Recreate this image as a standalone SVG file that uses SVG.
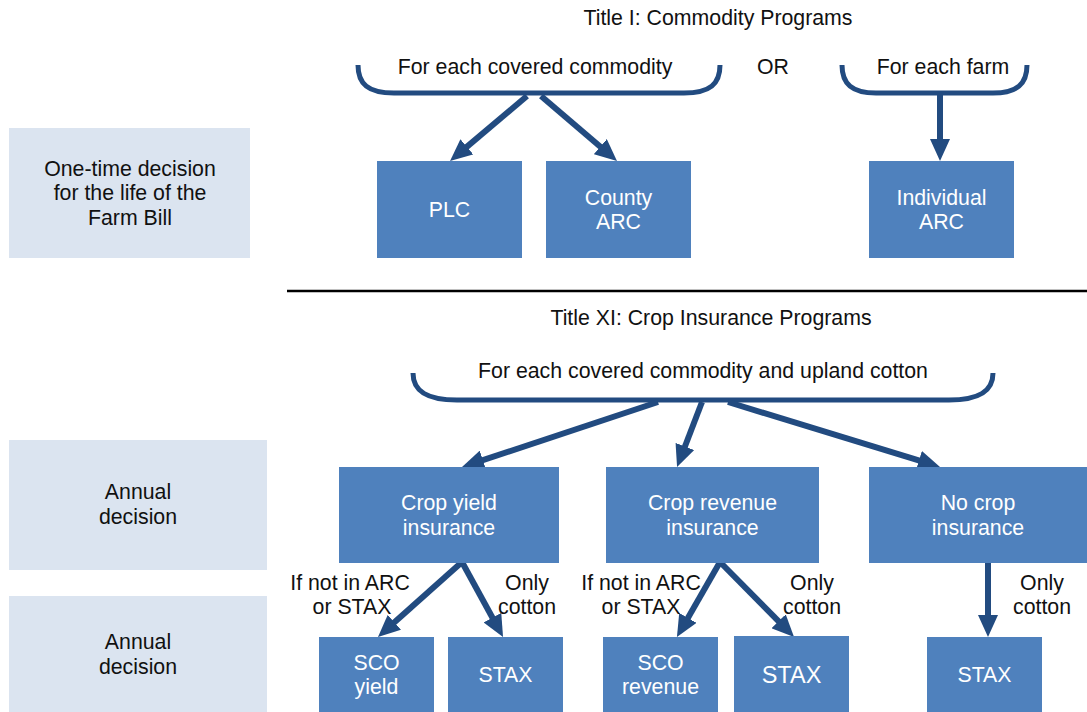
<svg xmlns="http://www.w3.org/2000/svg" width="1087" height="712" viewBox="0 0 1087 712">
<defs>
<style>
text{font-family:"Liberation Sans",Arial,Helvetica,sans-serif;font-size:21.3px;text-anchor:middle;fill:#111}
.box{fill:#4f81bd}
.side{fill:#dbe4f0}
.wt{fill:#fff}
.brace{fill:none;stroke:#224b80;stroke-width:5;stroke-linecap:butt}
.arr{stroke:#224b80;stroke-width:6;fill:none;marker-end:url(#ah)}
</style>
<marker id="ah" viewBox="0 0 22 20" markerWidth="22" markerHeight="20" refX="4" refY="10" orient="auto" markerUnits="userSpaceOnUse">
<path d="M0,0 L22,10 L0,20 z" fill="#224b80"/>
</marker>
</defs>
<rect width="1087" height="712" fill="#fff"/>

<g id="titles">
<text x="718" y="25">Title I: Commodity Programs</text>
<text x="773" y="74">OR</text>
<text x="711" y="325">Title XI: Crop Insurance Programs</text>
</g>

<line x1="287" y1="291" x2="1087" y2="291" stroke="#000" stroke-width="2.5"/>

<g id="side1"><rect class="side" x="9" y="128" width="241" height="130"/>
<text x="130" y="176">One-time decision</text><text x="130" y="200">for the life of the</text><text x="130" y="225">Farm Bill</text></g>
<g id="side2"><rect class="side" x="9" y="440" width="258" height="130"/>
<text x="138" y="499">Annual</text><text x="138" y="524">decision</text></g>
<g id="side3"><rect class="side" x="9" y="596" width="258" height="116"/>
<text x="138" y="649">Annual</text><text x="138" y="674">decision</text></g>

<g id="brace1"><path class="brace" d="M358 65 C358 84 368 93 394 93 L684 93 C710 93 720 84 720 65"/>
<text x="535" y="74">For each covered commodity</text></g>
<g id="brace2"><path class="brace" d="M842 65 C842 84 852 93 876 93 L993 93 C1017 93 1027 84 1027 65"/>
<text x="943" y="74">For each farm</text></g>
<g id="brace3"><path class="brace" d="M413 373 C413 392 428 400 457 400 L949 400 C978 400 993 392 993 373"/>
<text x="703" y="378">For each covered commodity and upland cotton</text></g>

<g id="connectors">
<line class="arr" x1="527" y1="96" x2="463.8" y2="149.4"/>
<line class="arr" x1="541" y1="96" x2="603.3" y2="149.3"/>
<line class="arr" x1="940" y1="95" x2="940" y2="143"/>
<line class="arr" x1="658" y1="402" x2="479.1" y2="461.4"/>
<line class="arr" x1="702" y1="402" x2="683.5" y2="450.2"/>
<line class="arr" x1="728" y1="402" x2="922.8" y2="461.7"/>
<line class="arr" x1="462" y1="562" x2="391.4" y2="625"/>
<line class="arr" x1="462" y1="562" x2="494.4" y2="621.2"/>
<line class="arr" x1="720" y1="562" x2="685.9" y2="621.4"/>
<line class="arr" x1="720" y1="562" x2="781.4" y2="624.2"/>
<line class="arr" x1="988" y1="563" x2="988" y2="619"/>
</g>

<g id="plc"><rect class="box" x="377" y="161" width="145" height="97"/><text class="wt" x="449.5" y="217">PLC</text></g>
<g id="county-arc"><rect class="box" x="546" y="161" width="145" height="97"/><text class="wt" x="618.5" y="205">County</text><text class="wt" x="618.5" y="229">ARC</text></g>
<g id="individual-arc"><rect class="box" x="869" y="161" width="145" height="97"/><text class="wt" x="941.5" y="205">Individual</text><text class="wt" x="941.5" y="229">ARC</text></g>

<g id="crop-yield"><rect class="box" x="339" y="467" width="220" height="96"/><text class="wt" x="449" y="510">Crop yield</text><text class="wt" x="449" y="535">insurance</text></g>
<g id="crop-revenue"><rect class="box" x="606" y="467" width="213" height="96"/><text class="wt" x="712.5" y="510">Crop revenue</text><text class="wt" x="712.5" y="535">insurance</text></g>
<g id="no-crop"><rect class="box" x="869" y="467" width="218" height="96"/><text class="wt" x="978" y="510">No crop</text><text class="wt" x="978" y="535">insurance</text></g>

<g id="labels">
<text x="350" y="590">If not in ARC</text><text x="352" y="614">or STAX</text>
<text x="527" y="590">Only</text><text x="527" y="614">cotton</text>
<text x="641" y="590">If not in ARC</text><text x="641" y="614">or STAX</text>
<text x="812" y="590">Only</text><text x="812" y="614">cotton</text>
<text x="1042" y="590">Only</text><text x="1042" y="614">cotton</text>
</g>

<g id="sco-yield"><rect class="box" x="319" y="637" width="115" height="75"/><text class="wt" x="376.5" y="670">SCO</text><text class="wt" x="376.5" y="694">yield</text></g>
<g id="stax1"><rect class="box" x="448" y="637" width="115" height="75"/><text class="wt" x="505.5" y="682">STAX</text></g>
<g id="sco-revenue"><rect class="box" x="603" y="637" width="115" height="75"/><text class="wt" x="660.5" y="670">SCO</text><text class="wt" x="660.5" y="694">revenue</text></g>
<g id="stax2"><rect class="box" x="734" y="636" width="115" height="76"/><text class="wt" x="791.5" y="683" style="font-size:23.5px">STAX</text></g>
<g id="stax3"><rect class="box" x="927" y="637" width="115" height="75"/><text class="wt" x="984.5" y="682">STAX</text></g>
</svg>
